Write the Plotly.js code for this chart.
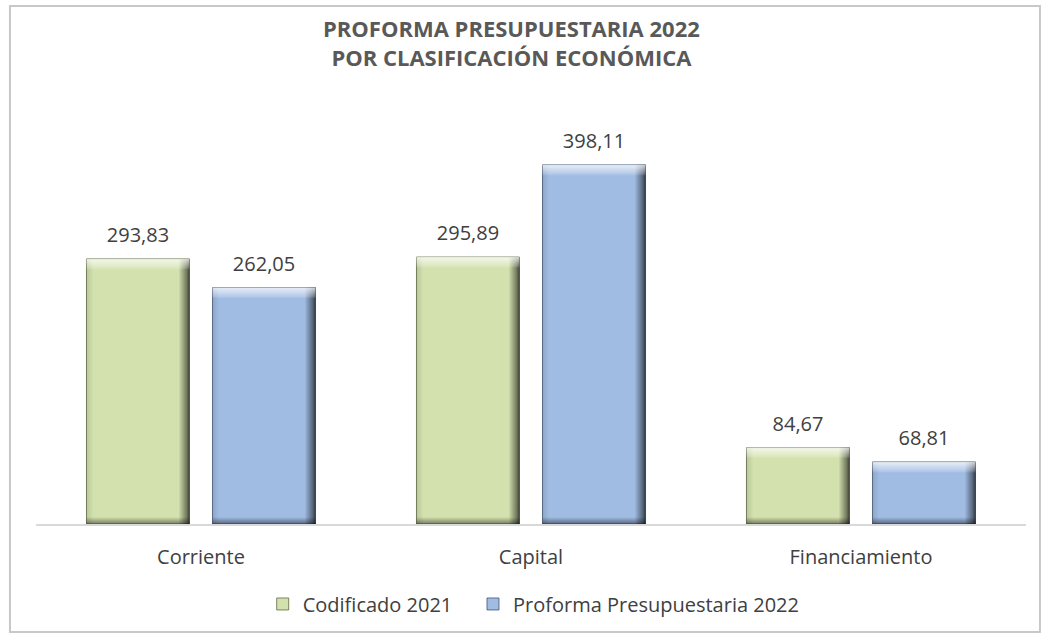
<!DOCTYPE html>
<html><head><meta charset="utf-8">
<script src="https://cdn.plot.ly/plotly-3.0.1.min.js"></script>
<style>html,body{margin:0;padding:0;background:#fff;}#chart{width:1042px;height:635px;}</style>
</head><body><div id="chart"></div>
<script>
const categories = ["Corriente", "Capital", "Financiamiento"];
const codificado2021 = [293.83, 295.89, 84.67];
const proforma2022 = [262.05, 398.11, 68.81];
const seriesNames = ["Codificado 2021", "Proforma Presupuestaria 2022"];
const titleLines = ["PROFORMA PRESUPUESTARIA 2022", "POR CLASIFICACIÓN ECONÓMICA"];

const fmt = v => v.toFixed(2).replace('.', ',');
const FONT = "Open Sans, Liberation Sans, sans-serif";

const traces = [
  {type:'bar', name:seriesNames[0], x:categories, y:codificado2021, legend:'legend',
   text:codificado2021.map(fmt), textposition:'outside', cliponaxis:false,
   textfont:{size:20, color:'#404040', family:FONT},
   marker:{color:'#D3E1AE', line:{color:'#5F6A40', width:0.8}}},
  {type:'bar', name:seriesNames[1], x:categories, y:proforma2022, legend:'legend2',
   text:proforma2022.map(fmt), textposition:'outside', cliponaxis:false,
   textfont:{size:20, color:'#404040', family:FONT},
   marker:{color:'#A1BCE3', line:{color:'#3F5372', width:0.8}}}
];

const legendBase = {orientation:'h', xanchor:'left', y:-0.197, yanchor:'middle',
                    font:{size:20, color:'#404040', family:FONT}, bgcolor:'rgba(0,0,0,0)'};

const layout = {
  width:1042, height:635,
  paper_bgcolor:'#fff', plot_bgcolor:'#fff',
  margin:{l:36, r:16, t:118, b:111, autoexpand:false},
  barmode:'group', bargap:0.236, bargroupgap:0.183,
  xaxis:{showline:true, linecolor:'#D9D9D9', linewidth:1.5, ticks:'outside', ticklen:14,
         tickcolor:'rgba(0,0,0,0)', tickfont:{size:20, color:'#404040', family:FONT},
         showgrid:false, fixedrange:true},
  yaxis:{range:[0,450], visible:false, showgrid:false, zeroline:false},
  showlegend:true,
  legend:Object.assign({x:0.229}, legendBase),
  legend2:Object.assign({x:0.4414}, legendBase),
  annotations:[{xref:'paper', yref:'paper', x:0.48, y:1.186, xanchor:'center', yanchor:'middle',
                text:'<b>'+titleLines.join('<br>')+'</b>', showarrow:false, align:'center',
                font:{size:22, color:'#595959', family:FONT}}],
  shapes:[{type:'rect', xref:'paper', yref:'paper', x0:-0.0263, x1:1.0141,
           y0:-0.266, y1:1.276, line:{color:'#C8C8C8', width:2}}]
};

Plotly.newPlot('chart', traces, layout, {staticPlot:true}).then(()=>{
  const svg = document.querySelector('#chart svg.main-svg');
  const ns = 'http://www.w3.org/2000/svg';
  const defs = svg.querySelector('defs');
  let n = 0;
  const grad = (vertical, stops) => {
    const g = document.createElementNS(ns,'linearGradient');
    const id = 'bev' + (n++);
    g.setAttribute('id', id);
    g.setAttribute('x1','0'); g.setAttribute('y1','0');
    g.setAttribute('x2', vertical ? '0' : '1'); g.setAttribute('y2', vertical ? '1' : '0');
    stops.forEach(([o,c,a])=>{
      const s=document.createElementNS(ns,'stop');
      s.setAttribute('offset', Math.max(0, Math.min(1, o)));
      s.setAttribute('stop-color', c); s.setAttribute('stop-opacity', a);
      g.appendChild(s);
    });
    defs.appendChild(g);
    return 'url(#' + id + ')';
  };
  document.querySelectorAll('#chart .barlayer .trace .point path').forEach(p=>{
    const b = p.getBBox();
    const w = b.width, h = b.height;
    if (!w || !h) return;
    const hx = grad(false, [[0,'#000',0.12],[7/w,'#000',0],[1-11/w,'#000',0],[1-3/w,'#000',0.45],[1,'#000',0.7]]);
    const vy = grad(true, [[0,'#fff',0.75],[9/h,'#fff',0.2],[11/h,'#fff',0],[1-7/h,'#000',0],[1,'#000',0.45]]);
    [hx, vy].forEach(f=>{
      const c = p.cloneNode(true);
      c.style.fill = f; c.style.stroke = 'none'; c.style.fillOpacity = 1;
      p.parentNode.appendChild(c);
    });
  });
  // extra standoff for the value labels above the bars
  document.querySelectorAll('#chart .barlayer .trace .point text').forEach(t=>{
    const tr = t.getAttribute('transform') || '';
    t.setAttribute('transform', 'translate(0,-8) ' + tr);
  });
});
</script></body></html>
